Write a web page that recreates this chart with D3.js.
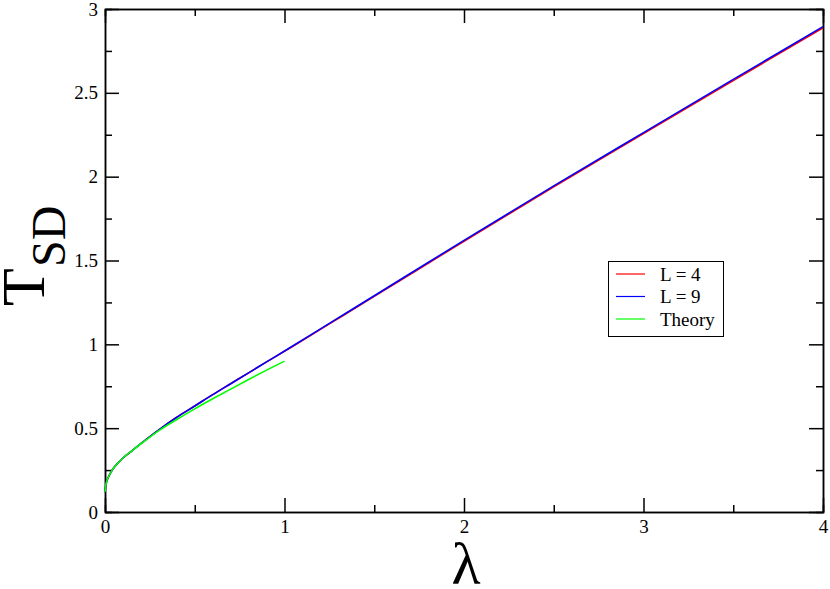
<!DOCTYPE html>
<html>
    <head>
        <meta charset="utf-8">
        <style>
        html, body {
            margin: 0px;
            background: #fff;
        }
        svg {
            display: block;
        }
        .axis path,
        .axis line {
            fill: none;
            stroke: #000;
            stroke-width: 1.5px;
        }
        </style>
    </head>
    <body>
        <svg class="chart" width="830" height="589"></svg>
        <script src="https://d3js.org/d3.v7.min.js"></script>
        <script>
            // data
            var lambdaL = [0, 0.005, 0.01, 0.02, 0.04, 0.07, 0.1, 0.15, 0.2, 0.25, 0.3, 0.4, 0.5, 0.6, 0.7, 0.8, 0.9, 1.0, 1.25, 1.5, 2.0, 2.5, 3.0, 3.5, 4.0];
            var tL4 = [0.12, 0.16, 0.185, 0.21, 0.25, 0.29, 0.322, 0.365, 0.408, 0.45, 0.49, 0.565, 0.632, 0.70, 0.765, 0.83, 0.895, 0.958, 1.122, 1.286, 1.615, 1.94, 2.257, 2.573, 2.888];
            var tL9 = [0.12, 0.16, 0.185, 0.21, 0.25, 0.29, 0.322, 0.365, 0.408, 0.45, 0.49, 0.565, 0.632, 0.70, 0.765, 0.83, 0.895, 0.96, 1.125, 1.29, 1.62, 1.945, 2.263, 2.58, 2.895];
            var lambdaTheory = [0, 0.005, 0.01, 0.02, 0.04, 0.07, 0.1, 0.15, 0.2, 0.25, 0.3, 0.4, 0.5, 0.6, 0.7, 0.8, 0.9, 1.0];
            var tTheory = [0.12, 0.16, 0.185, 0.21, 0.25, 0.29, 0.322, 0.365, 0.407, 0.447, 0.485, 0.552, 0.615, 0.675, 0.733, 0.79, 0.846, 0.90];

            var xMajor = [0, 1, 2, 3, 4];
            var xMinor = [0.5, 1.5, 2.5, 3.5];
            var yMajor = [0, 0.5, 1, 1.5, 2, 2.5, 3];
            var yMinor = [0.25, 0.75, 1.25, 1.75, 2.25, 2.75];

            var seriesNames = ["L = 4", "L = 9", "Theory"];
            var seriesColors = ["#ff0000", "#0000ff", "#00ff00"];

            var serif = "'Liberation Serif', 'Times New Roman', serif";

            var margin = {top: 9, right: 7, bottom: 77, left: 105},
                width = 830 - margin.left - margin.right,
                height = 589 - margin.top - margin.bottom;

            var svg = d3.select(".chart");
            var chart = svg.append("g")
                .attr("transform", "translate(" + margin.left + "," + margin.top + ")");

            var x = d3.scaleLinear().domain([0, 4]).range([0, width]);
            var y = d3.scaleLinear().domain([0, 3]).range([height, 0]);

            var fmt = function(d) { return String(d); };

            // minor ticks
            chart.append("g").attr("class", "axis")
                .attr("transform", "translate(0," + height + ")")
                .call(d3.axisBottom(x).tickValues(xMinor).tickSize(-7).tickFormat(""));
            chart.append("g").attr("class", "axis")
                .call(d3.axisTop(x).tickValues(xMinor).tickSize(-7).tickFormat(""));
            chart.append("g").attr("class", "axis")
                .call(d3.axisLeft(y).tickValues(yMinor).tickSize(-7).tickFormat(""));
            chart.append("g").attr("class", "axis")
                .attr("transform", "translate(" + width + ",0)")
                .call(d3.axisRight(y).tickValues(yMinor).tickSize(-7).tickFormat(""));

            // major ticks
            chart.append("g").attr("class", "axis")
                .attr("transform", "translate(0," + height + ")")
                .call(d3.axisBottom(x).tickValues(xMajor).tickSize(-14).tickSizeOuter(0).tickPadding(8).tickFormat(fmt));
            chart.append("g").attr("class", "axis")
                .call(d3.axisTop(x).tickValues(xMajor).tickSize(-14).tickSizeOuter(0).tickFormat(""));
            chart.append("g").attr("class", "axis")
                .call(d3.axisLeft(y).tickValues(yMajor).tickSize(-14).tickSizeOuter(0).tickPadding(7).tickFormat(fmt));
            chart.append("g").attr("class", "axis")
                .attr("transform", "translate(" + width + ",0)")
                .call(d3.axisRight(y).tickValues(yMajor).tickSize(-14).tickSizeOuter(0).tickFormat(""));

            chart.selectAll(".axis").attr("font-family", serif).attr("font-size", 19);

            var line = d3.line()
                .x(function(d) { return x(d[0]); })
                .y(function(d) { return y(d[1]); })
                .curve(d3.curveMonotoneX);

            var series = [
                d3.zip(lambdaL, tL4),
                d3.zip(lambdaL, tL9),
                d3.zip(lambdaTheory, tTheory)
            ];

            chart.selectAll("path.series")
                .data(series)
                .enter().append("path")
                .attr("class", "series")
                .attr("fill", "none")
                .attr("stroke", function(d, i) { return seriesColors[i]; })
                .attr("stroke-width", 1.6)
                .attr("d", line);

            // legend
            var legend = svg.append("g")
                .attr("font-family", serif)
                .attr("font-size", 19);
            legend.append("rect")
                .attr("x", 608.5).attr("y", 261.5)
                .attr("width", 115).attr("height", 75)
                .attr("fill", "#fff").attr("stroke", "#000").attr("stroke-width", 1);
            var item = legend.selectAll("g.item")
                .data(seriesNames)
                .enter().append("g")
                .attr("class", "item")
                .attr("transform", function(d, i) { return "translate(0," + (274 + i * 22.5) + ")"; });
            item.append("line")
                .attr("x1", 616).attr("x2", 645)
                .attr("stroke", function(d, i) { return seriesColors[i]; })
                .attr("stroke-width", 1.2);
            item.append("text")
                .attr("x", 660).attr("y", 6.5)
                .text(function(d) { return d; });

            // axis titles
            svg.append("text")
                .attr("transform", "translate(44,306) rotate(-90)")
                .attr("font-family", serif).attr("font-size", 62)
                .text("T");
            svg.append("text")
                .attr("transform", "translate(65,267) rotate(-90)")
                .attr("font-family", serif).attr("font-size", 48)
                .text("SD");
            svg.append("text")
                .attr("x", 466).attr("y", 584)
                .attr("text-anchor", "middle")
                .attr("font-family", serif).attr("font-size", 60)
                .text("λ");
        </script>
    </body>
</html>
